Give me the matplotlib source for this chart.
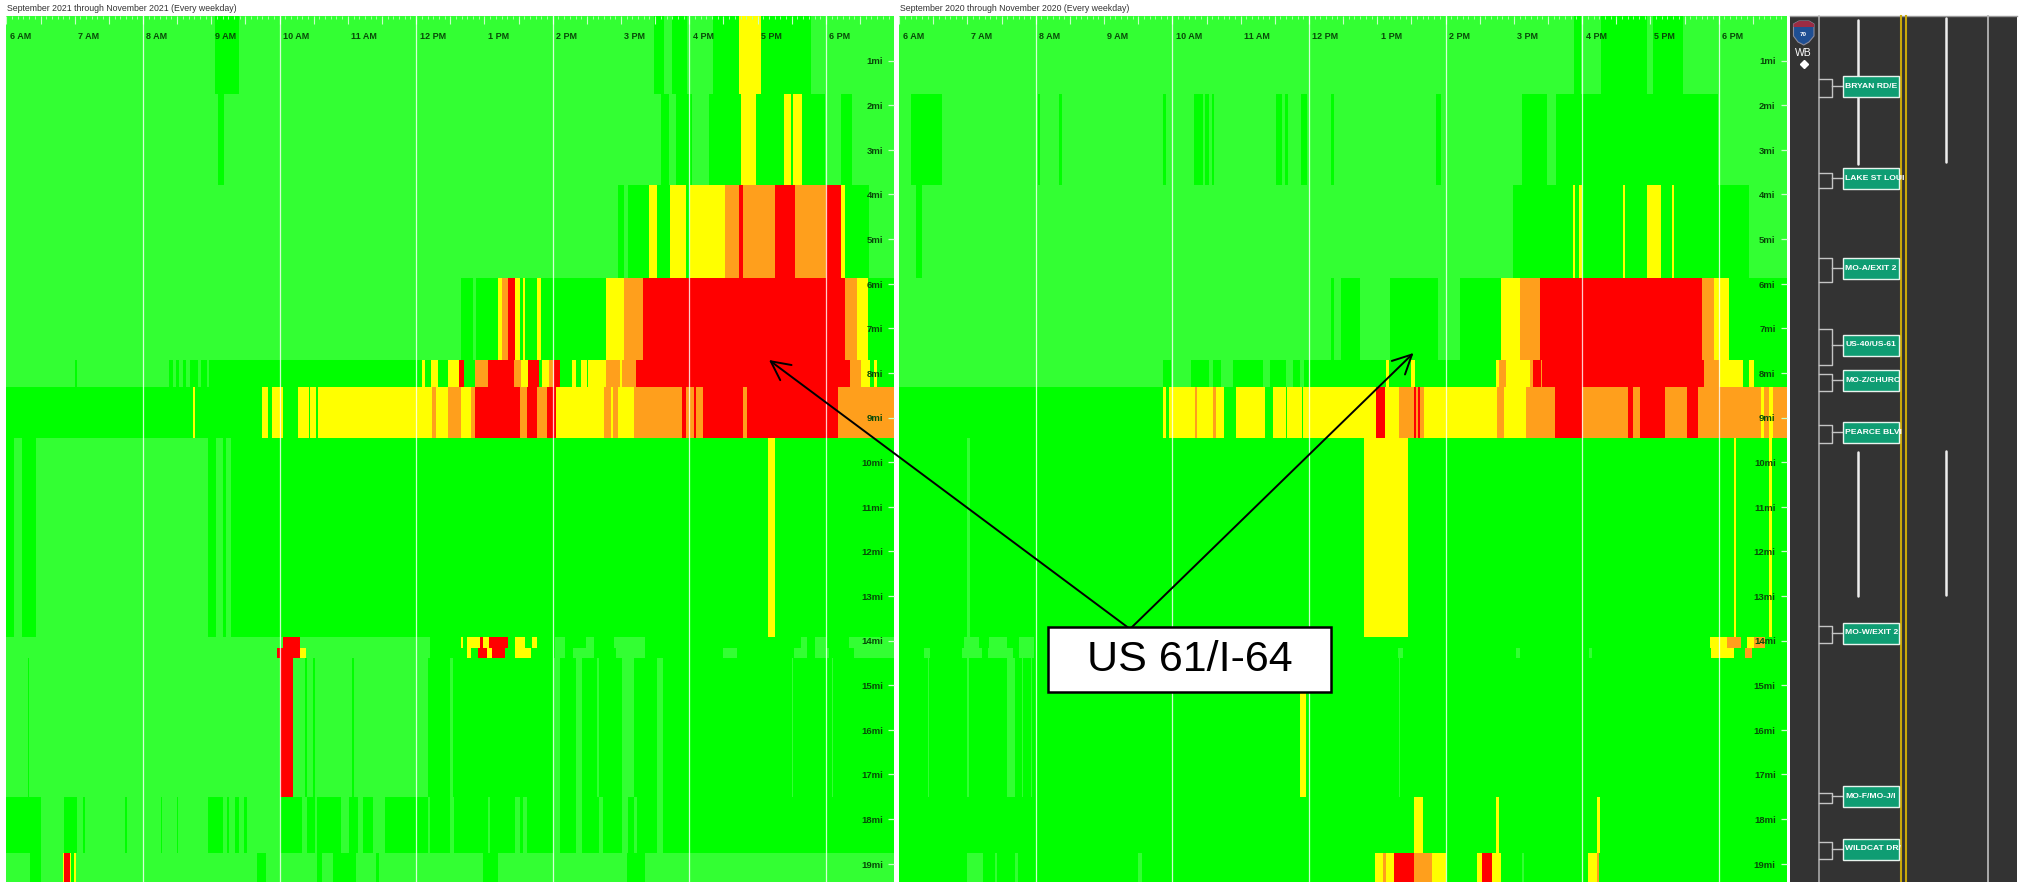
import matplotlib
matplotlib.use('Agg')
import matplotlib.pyplot as plt
from matplotlib.colors import ListedColormap
from matplotlib.patches import Rectangle, Polygon

# speed levels: 0 light green, 1 green, 2 yellow, 3 orange, 4 red
LEVEL_COLORS = ['#33ff33', '#00ff00', '#ffff00', '#ff9f1c', '#ff0000']

# band edges along the road, miles
band_edges = [0, 1.75, 3.78, 5.87, 7.72, 8.31, 9.45, 13.92, 14.16, 14.38, 17.51, 18.76, 19.41]

# each band: (end minute after 6 AM, level)
sep21_a = [(183,0),(204,1),(569,0),(578,1),(585,0),(598,1),(621,0),(644,1),(663,2),(707,1),(780,0)]
sep21_b = [(186,0),(191,1),(575,0),(582,1),(588,0),(602,1),(617,0),(645,1),(659,2),(683,1),(689,2),(691,1),(699,2),(719,1),(733,0),(743,1),(780,0)]
sep21_c = [(537,0),(543,1),(546,0),(565,1),(572,2),(583,1),(597,2),(601,1),(631,2),(644,3),(647,4),(675,3),(693,4),(720,3),(733,4),(737,2),(758,1),(780,0)]
sep21_d = [(399,0),(410,1),(413,0),(432,1),(435,2),(441,3),(447,4),(451,2),(454,1),(456,2),(466,1),(470,2),(527,1),(543,2),(559,3),(737,4),(747,3),(757,2),(780,1)]
sep21_e = [(60,0),(62,1),(143,0),(146,1),(149,0),(152,1),(155,0),(158,1),(161,0),(168,1),(171,0),(176,1),(178,0),(365,1),(368,2),(373,1),(379,2),(388,1),(398,2),(402,4),(412,1),(423,3),(446,4),(452,3),(458,2),(468,4),(471,1),(477,2),(481,3),(486,4),(497,1),(500,2),(505,1),(510,2),(511,1),(527,2),(539,3),(541,2),(553,3),(741,4),(751,3),(759,2),(762,1),(765,2),(780,1)]
sep21_f = [(164,1),(166,2),(225,1),(230,2),(233,1),(243,2),(256,1),(266,2),(267,1),(272,2),(274,1),(374,2),(377,3),(388,2),(399,3),(408,2),(412,3),(451,4),(457,3),(466,4),(475,3),(483,4),(525,2),(531,3),(533,2),(537,3),(551,2),(594,3),(597,4),(604,3),(606,4),(612,3),(647,4),(651,3),(731,4),(780,3)]
sep21_g = [(7,1),(14,0),(26,1),(177,0),(184,1),(190,0),(193,1),(197,0),(669,1),(675,2),(780,1)]
sep21_h = [(243,0),(258,4),(372,0),(399,1),(401,2),(405,1),(416,2),(419,4),(424,2),(441,4),(447,1),(456,2),(462,1),(466,2),(482,1),(491,0),(509,1),(516,0),(534,1),(561,0),(698,1),(703,0),(710,1),(720,0),(740,1),(780,0)]
sep21_i = [(238,0),(258,4),(263,2),(372,0),(405,1),(408,2),(414,1),(422,4),(427,2),(438,4),(447,1),(461,2),(482,1),(491,0),(498,1),(516,0),(536,1),(561,0),(630,1),(642,0),(692,1),(703,0),(710,1),(723,0),(745,1),(780,0)]
sep21_j = [(19,0),(20,1),(240,0),(252,4),(262,0),(264,1),(269,0),(271,1),(304,0),(305,1),(370,0),(390,1),(392,0),(481,1),(486,0),(500,1),(506,0),(519,1),(521,0),(541,1),(551,0),(572,1),(577,0),(690,1),(691,0),(725,1),(726,0),(780,1)]
sep21_k = [(30,1),(51,0),(62,1),(67,0),(69,1),(104,0),(106,1),(136,0),(137,1),(150,0),(151,1),(177,0),(190,1),(194,0),(196,1),(201,0),(204,1),(209,0),(211,1),(240,0),(260,1),(264,0),(271,1),(273,0),(294,1),(301,0),(309,1),(313,0),(322,1),(333,0),(370,1),(372,0),(390,1),(393,0),(423,1),(425,0),(447,1),(451,0),(454,1),(457,0),(481,1),(486,0),(500,1),(506,0),(521,1),(524,0),(541,1),(546,0),(551,1),(554,0),(572,1),(577,0),(780,1)]
sep21_l = [(21,0),(30,1),(50,0),(51,2),(56,4),(57,2),(59,1),(61,2),(220,0),(228,1),(273,0),(277,1),(287,0),(307,1),(325,0),(327,1),(419,0),(432,1),(545,0),(561,1),(780,0)]

sep20_a = [(593,0),(599,1),(617,0),(657,1),(662,0),(689,1),(780,0)]
sep20_b = [(10,0),(38,1),(122,0),(124,1),(140,0),(143,1),(232,0),(234,1),(259,0),(267,1),(269,0),(272,1),(275,0),(277,1),(331,0),(336,1),(339,0),(342,1),(353,0),(358,1),(379,0),(382,1),(472,0),(476,1),(547,0),(569,1),(577,0),(719,1),(780,0)]
sep20_c = [(15,0),(20,1),(539,0),(592,1),(594,2),(597,1),(600,2),(636,1),(638,2),(657,1),(669,2),(679,1),(681,2),(747,1),(780,0)]
sep20_d = [(379,0),(382,1),(388,0),(405,1),(431,0),(473,1),(493,0),(529,1),(545,2),(556,3),(563,3),(705,4),(716,3),(729,2),(780,1)]
sep20_e = [(232,0),(239,1),(256,0),(272,1),(276,0),(283,1),(293,0),(320,1),(326,0),(340,1),(346,0),(352,1),(356,0),(428,1),(430,2),(450,1),(453,2),(524,1),(527,2),(533,3),(554,2),(557,3),(564,4),(565,3),(707,4),(720,3),(732,2),(741,2),(747,1),(751,2),(780,1)]
sep20_f = [(232,1),(234,2),(237,1),(260,2),(262,3),(276,2),(278,3),(285,2),(296,1),(321,2),(328,1),(340,2),(341,1),(354,2),(355,1),(419,2),(427,4),(439,2),(452,3),(454,4),(456,3),(458,4),(461,3),(525,2),(531,3),(551,2),(576,3),(600,4),(640,3),(645,4),(651,3),(673,4),(692,3),(702,4),(757,3),(760,2),(764,3),(768,2),(780,3)]
sep20_g = [(60,1),(62,0),(408,1),(447,2),(733,1),(735,2),(764,1),(767,2),(780,1)]
sep20_h = [(57,1),(70,0),(79,1),(95,0),(105,1),(118,0),(712,1),(720,2),(727,2),(740,3),(745,1),(751,2),(761,3),(780,1)]
sep20_i = [(22,1),(27,0),(55,1),(73,0),(78,1),(100,0),(105,1),(118,0),(438,1),(443,0),(542,1),(545,0),(606,1),(609,0),(713,1),(733,2),(743,1),(749,3),(780,1)]
sep20_j = [(25,1),(26,0),(60,1),(61,0),(95,1),(102,0),(108,1),(109,0),(116,1),(117,0),(352,1),(357,2),(439,1),(440,0),(780,1)]
sep20_k = [(452,1),(460,2),(524,1),(527,2),(613,1),(616,2),(780,1)]
sep20_l = [(60,1),(74,0),(84,1),(86,0),(102,1),(104,0),(210,1),(213,0),(418,1),(425,2),(428,3),(435,2),(452,4),(468,3),(480,2),(508,1),(512,2),(521,4),(529,2),(547,1),(549,0),(605,1),(613,2),(615,3),(780,1)]

panel_2021 = [sep21_a, sep21_b, sep21_c, sep21_d, sep21_e, sep21_f, sep21_g, sep21_h, sep21_i, sep21_j, sep21_k, sep21_l]
panel_2020 = [sep20_a, sep20_b, sep20_c, sep20_d, sep20_e, sep20_f, sep20_g, sep20_h, sep20_i, sep20_j, sep20_k, sep20_l]

hour_labels = ['6 AM', '7 AM', '8 AM', '9 AM', '10 AM', '11 AM', '12 PM', '1 PM', '2 PM', '3 PM', '4 PM', '5 PM', '6 PM']
mile_labels = ['%dmi' % m for m in range(1, 20)]

sign_names = ['BRYAN RD/E', 'LAKE ST LOUI', 'MO-A/EXIT 2', 'US-40/US-61', 'MO-Z/CHURC', 'PEARCE BLVI', 'MO-W/EXIT 2', 'MO-F/MO-J/I', 'WILDCAT DR/']
sign_y = [86, 178, 268, 345, 380, 432, 633, 796, 849]
bracket_top = [79, 173, 258, 329, 374, 425, 626, 793, 842]
bracket_bottom = [97, 188, 282, 365, 391, 443, 643, 803, 859]

W, H = 2021, 882
plt.rcParams['font.family'] = ['Liberation Sans', 'DejaVu Sans']
fig = plt.figure(figsize=(W / 100, H / 100), dpi=100, facecolor='white')
cmap = ListedColormap(LEVEL_COLORS)


def draw_panel(left, bands, title):
    ax = fig.add_axes([left / W, 0, 887.8 / W, (H - 16) / H])
    for i, band in enumerate(bands):
        edges = [0] + [b[0] for b in band]
        levels = [b[1] for b in band]
        ax.pcolormesh(edges, band_edges[i:i + 2], [levels], cmap=cmap, vmin=0, vmax=4,
                      shading='flat', antialiased=False, linewidth=0)
    ax.set_xlim(0, 780)
    ax.set_ylim(19.41, 0)
    for spine in ax.spines.values():
        spine.set_visible(False)
    for t in range(120, 780, 120):
        ax.axvline(t, color='white', lw=0.9, alpha=0.8)
    # ticks along the top and the right, drawn inside the plot
    ax.set_xticks(range(0, 780, 30))
    ax.set_xticks(range(0, 780, 5), minor=True)
    ax.set_yticks(range(1, 20))
    ax.tick_params(axis='x', which='major', top=True, bottom=False, labelbottom=False,
                   direction='in', length=6, width=0.8, color='#c8ffc8')
    ax.tick_params(axis='x', which='minor', top=True, bottom=False,
                   direction='in', length=2.5, width=0.7, color='#a8ffa8')
    ax.tick_params(axis='y', right=True, left=False, labelleft=False,
                   direction='in', length=4.3, width=0.9, color='#c8ffc8')
    for i, lab in enumerate(hour_labels):
        ax.text(i * 60 + 3, 0.45, lab, fontsize=6.5, fontweight='bold', color='#084a08',
                ha='left', va='center')
    for i, lab in enumerate(mile_labels):
        ax.text(770, i + 1.03, lab, fontsize=6.8, fontweight='bold', color='#084a08',
                ha='right', va='center')
    fig.text((left + 0.5) / W, 1 - 8.5 / H, title, fontsize=6.3, color='#333333', ha='left', va='center')
    return ax


draw_panel(6.4, panel_2021, 'September 2021 through November 2021 (Every weekday)')
draw_panel(899.2, panel_2020, 'September 2020 through November 2020 (Every weekday)')

# overlay in pixel coordinates: road strip and the callout
ov = fig.add_axes([0, 0, 1, 1], zorder=10)
ov.set_xlim(0, W)
ov.set_ylim(H, 0)
ov.axis('off')
ov.patch.set_alpha(0)

ov.add_patch(Rectangle((1789.5, 15.5), 227.5, H - 15.5, fc='#333333', ec='none'))
ov.plot([1789.5, 2017], [15.5, 15.5], color='#999999', lw=1)
ov.plot([1818.7, 1818.7], [15.5, H], color='#b4b4b4', lw=1.1)
ov.plot([1988, 1988], [15.5, H], color='#b4b4b4', lw=1.3)
for x in (1900.7, 1906):
    ov.plot([x, x], [15.5, H], color='#c9a80a', lw=1.5)
for x, tops in ((1858, (20, 452)), (1945.7, (18, 451))):
    for y0 in tops:
        ov.plot([x, x], [y0, y0 + 144], color='#eeeeee', lw=1.8, solid_capstyle='round')

for name, y, t, b in zip(sign_names, sign_y, bracket_top, bracket_bottom):
    ov.plot([1819, 1832, 1832, 1819], [t, t, b, b], color='#c4c4c4', lw=1)
    ov.plot([1832, 1843], [y, y], color='#c4c4c4', lw=1)
    sign = Rectangle((1843, y - 10.5), 56, 21, fc='#0f9d73', ec='#e8f4ee', lw=1, zorder=3)
    ov.add_patch(sign)
    ov.text(1845, y, name, fontsize=6.1, fontweight='bold', color='white', ha='left', va='center',
            zorder=4, clip_on=True, clip_path=sign)

# interstate shield
ov.add_patch(Polygon([(1793.5, 24), (1799, 21), (1809, 21), (1814, 24), (1814, 36), (1809, 42), (1803.7, 45), (1798, 42), (1793.5, 36)],
                     closed=True, fc='#1f4f93', ec='#8a8a9a', lw=0.8))
ov.add_patch(Polygon([(1793.5, 24), (1799, 21), (1809, 21), (1814, 24), (1814, 27), (1793.5, 27)], closed=True, fc='#9b2c44', ec='none'))
ov.text(1803.7, 34, '70', fontsize=4.5, fontweight='bold', color='white', ha='center', va='center')
ov.text(1803.7, 53.5, 'WB', fontsize=7.5, color='white', ha='center', va='center')
ov.plot([1803.7], [64], marker='D', ms=4, color='white')

# callout box and its two arrows
for tip in ((769, 360), (1413.5, 353)):
    ov.annotate('', xy=tip, xytext=(1130, 629),
                arrowprops=dict(arrowstyle='->', lw=1.4, color='black', mutation_scale=34, shrinkA=0, shrinkB=0))
ov.add_patch(Rectangle((1048, 627), 283, 65, fc='white', ec='black', lw=1.8, zorder=5))
ov.text(1189.5, 660, 'US 61/I-64', fontsize=31, color='black', ha='center', va='center', zorder=6)

fig.savefig('out.png', dpi=100)
